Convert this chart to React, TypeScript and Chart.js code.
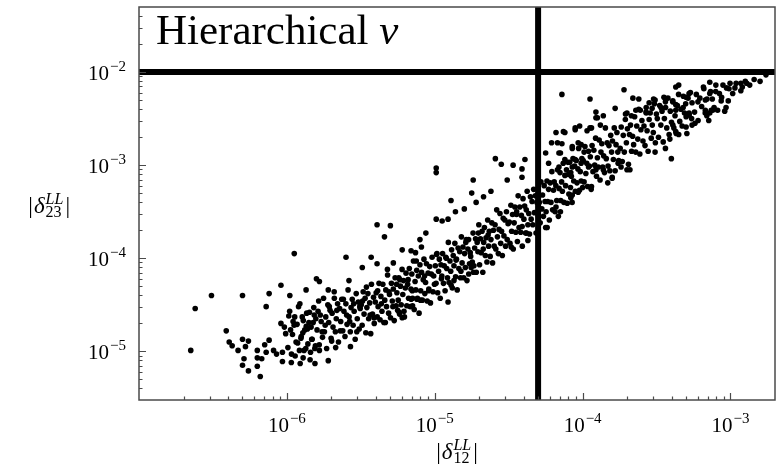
import React, { useEffect, useRef } from 'react';
import { Chart, registerables } from 'chart.js';

Chart.register(...registerables);

// Axis ranges and the two cut lines
const X_MIN = 1e-7;
const X_MAX = 2e-3;
const Y_MIN = 3e-6;
const Y_MAX = 5e-2;
const CUT_X = 5e-5;
const CUT_Y = 1e-2;

// Decade tick labels (exponents of 10)
const xTickExponents = [-6, -5, -4, -3];
const yTickExponents = [-5, -4, -3, -2];

const titleWord = 'Hierarchical ';
const titleSymbol = 'ν';
const xLabelSub = '12';
const yLabelSub = '23';

// Points, as [log10|δ12|, log10|δ23|]
const lowTail: number[][] = [
  [-6.65, -4.99], [-6.62, -4.54], [-6.51, -4.40], [-6.30, -4.40], [-6.41, -4.78], [-6.39, -4.90],
  [-6.37, -4.94], [-6.30, -4.87], [-6.26, -4.89], [-6.33, -4.99], [-6.28, -4.95], [-6.29, -5.08],
  [-6.30, -5.15], [-6.26, -5.21], [-6.20, -4.99], [-6.20, -5.07], [-6.17, -5.08], [-6.20, -5.16],
  [-6.18, -5.27], [-6.15, -4.93], [-6.12, -4.88], [-6.14, -4.52], [-6.12, -4.38], [-6.04, -4.29],
  [-5.98, -4.40], [-6.04, -4.70], [-6.14, -5.01], [-6.09, -4.99], [-6.07, -5.03], [-6.03, -5.01],
  [-6.03, -5.11], [-5.97, -5.12], [-5.89, -5.07], [-5.81, -5.13], [-5.72, -5.10], [-5.78, -4.99],
  [-5.67, -4.96], [-5.57, -4.95], [-5.91, -5.13],
];

const bandNear1e6: number[][] = [
  [-6.017, -4.74], [-5.993, -4.96], [-5.981, -4.57], [-5.962, -4.82], [-5.958, -4.68], [-5.944, -5.05],
  [-5.931, -4.71], [-5.927, -4.91], [-5.912, -4.49], [-5.905, -4.86], [-5.896, -4.63], [-5.884, -4.99],
  [-5.879, -4.77], [-5.866, -4.59], [-5.858, -4.92], [-5.851, -4.69], [-5.843, -5.09], [-5.836, -4.74],
  [-5.829, -4.87], [-5.818, -4.53], [-5.811, -4.97], [-5.804, -4.65], [-6.008, -4.81], [-5.987, -4.62],
  [-5.969, -5.03], [-5.951, -4.72], [-5.938, -4.90], [-5.921, -4.52], [-5.903, -4.84], [-5.889, -4.67],
  [-5.872, -4.97], [-5.861, -4.76], [-5.847, -4.58], [-5.832, -4.87], [-5.822, -4.69], [-5.807, -4.94],
  [-5.975, -4.77], [-5.947, -4.63], [-5.915, -4.99], [-5.892, -4.80], [-5.869, -4.73], [-5.840, -5.01],
  [-5.815, -4.61],
];

const band2to3e6: number[][] = [
  [-5.796, -4.77], [-5.789, -4.57], [-5.781, -4.93], [-5.774, -4.61], [-5.768, -4.68], [-5.759, -4.85],
  [-5.752, -4.43], [-5.746, -4.79], [-5.737, -4.63], [-5.731, -4.97], [-5.723, -4.50], [-5.717, -4.69],
  [-5.708, -4.56], [-5.701, -4.86], [-5.694, -4.59], [-5.688, -4.74], [-5.679, -4.43], [-5.672, -4.79],
  [-5.666, -4.65], [-5.657, -4.49], [-5.651, -4.90], [-5.643, -4.54], [-5.636, -4.68], [-5.629, -4.44],
  [-5.622, -4.78], [-5.614, -4.57], [-5.607, -4.84], [-5.601, -4.49], [-5.593, -4.71], [-5.586, -4.34],
  [-5.579, -4.63], [-5.571, -4.79], [-5.566, -4.53], [-5.558, -4.44], [-5.552, -4.72], [-5.545, -4.57],
  [-5.538, -4.87], [-5.531, -4.38], [-5.524, -4.65], [-5.517, -4.47], [-5.511, -4.76], [-5.504, -4.54],
  [-5.785, -4.46], [-5.762, -4.79], [-5.741, -4.72], [-5.713, -4.52], [-5.697, -4.89], [-5.662, -4.56],
  [-5.639, -4.78], [-5.618, -4.44], [-5.596, -4.61], [-5.575, -4.68], [-5.548, -4.49], [-5.527, -4.79],
  [-5.507, -4.52],
];

const band3to6e6: number[][] = [
  [-5.497, -4.50], [-5.491, -4.72], [-5.484, -4.36], [-5.478, -4.60], [-5.471, -4.43], [-5.466, -4.80],
  [-5.459, -4.53], [-5.452, -4.38], [-5.447, -4.65], [-5.440, -4.48], [-5.433, -4.81], [-5.428, -4.28],
  [-5.421, -4.60], [-5.414, -4.42], [-5.409, -4.70], [-5.402, -4.47], [-5.396, -4.37], [-5.389, -4.63],
  [-5.383, -4.52], [-5.377, -4.27], [-5.370, -4.66], [-5.364, -4.41], [-5.357, -4.57], [-5.351, -4.28],
  [-5.344, -4.69], [-5.338, -4.45], [-5.331, -4.34], [-5.326, -4.52], [-5.319, -4.18], [-5.312, -4.59],
  [-5.306, -4.39], [-5.299, -4.64], [-5.293, -4.27], [-5.287, -4.46], [-5.280, -4.33], [-5.274, -4.67],
  [-5.268, -4.21], [-5.261, -4.51], [-5.256, -4.37], [-5.251, -4.56], [-5.488, -4.46], [-5.462, -4.31],
  [-5.437, -4.61], [-5.411, -4.64], [-5.386, -4.35], [-5.361, -4.49], [-5.334, -4.69], [-5.309, -4.36],
  [-5.283, -4.52], [-5.258, -4.28],
];

const band6e6to1e5: number[][] = [
  [-5.247, -4.45], [-5.243, -4.21], [-5.238, -4.60], [-5.232, -4.30], [-5.227, -4.50], [-5.221, -4.12],
  [-5.216, -4.39], [-5.211, -4.24], [-5.205, -4.63], [-5.199, -4.32], [-5.194, -4.16], [-5.189, -4.51],
  [-5.183, -4.28], [-5.177, -4.43], [-5.172, -4.11], [-5.166, -4.52], [-5.161, -4.33], [-5.155, -4.17],
  [-5.150, -4.43], [-5.144, -4.03], [-5.139, -4.55], [-5.133, -4.25], [-5.128, -4.34], [-5.122, -4.13],
  [-5.117, -4.43], [-5.111, -4.19], [-5.106, -4.59], [-5.100, -4.07], [-5.095, -4.35], [-5.089, -4.15],
  [-5.084, -4.45], [-5.078, -4.23], [-5.073, -4.01], [-5.067, -4.38], [-5.062, -4.26], [-5.056, -4.06],
  [-5.051, -4.46], [-5.045, -4.16], [-5.040, -4.33], [-5.034, -4.09], [-5.029, -4.48], [-5.023, -4.17],
  [-5.018, -3.99], [-5.012, -4.36], [-5.007, -4.19], [-5.002, -4.28], [-5.236, -4.23], [-5.208, -4.57],
  [-5.180, -4.23], [-5.152, -4.35], [-5.125, -4.03], [-5.097, -4.45], [-5.069, -4.19], [-5.041, -4.35],
];

const band1to2e5: number[][] = [
  [-4.996, -4.08], [-4.991, -4.27], [-4.985, -3.95], [-4.980, -4.37], [-4.974, -4.14], [-4.969, -4.01],
  [-4.963, -4.43], [-4.958, -4.07], [-4.952, -4.19], [-4.947, -3.95], [-4.941, -4.27], [-4.936, -4.08],
  [-4.930, -4.35], [-4.925, -3.99], [-4.919, -4.11], [-4.914, -4.21], [-4.908, -3.83], [-4.903, -4.26],
  [-4.897, -4.03], [-4.892, -4.14], [-4.886, -3.91], [-4.881, -4.32], [-4.875, -3.97], [-4.870, -4.08],
  [-4.864, -3.84], [-4.859, -4.20], [-4.853, -4.01], [-4.848, -4.34], [-4.842, -3.89], [-4.837, -4.11],
  [-4.831, -3.93], [-4.826, -4.21], [-4.820, -3.77], [-4.815, -4.05], [-4.809, -3.88], [-4.804, -4.21],
  [-4.798, -3.95], [-4.793, -4.10], [-4.787, -3.80], [-4.782, -4.24], [-4.776, -3.90], [-4.771, -3.80],
  [-4.765, -4.06], [-4.760, -3.94], [-4.754, -4.10], [-4.988, -3.96], [-4.955, -4.22], [-4.922, -4.00],
  [-4.889, -4.29], [-4.856, -4.02], [-4.823, -4.14], [-4.790, -3.83], [-4.757, -3.98],
];

const band2to3e5: number[][] = [
  [-4.746, -4.04], [-4.741, -3.73], [-4.735, -4.08], [-4.730, -3.89], [-4.724, -3.79], [-4.719, -4.15],
  [-4.713, -3.83], [-4.708, -3.93], [-4.702, -3.64], [-4.697, -4.07], [-4.691, -3.79], [-4.686, -3.94],
  [-4.680, -3.71], [-4.675, -4.15], [-4.669, -3.83], [-4.664, -3.67], [-4.658, -3.97], [-4.653, -3.78],
  [-4.647, -4.04], [-4.642, -3.59], [-4.636, -3.87], [-4.631, -3.71], [-4.625, -3.98], [-4.620, -3.80],
  [-4.614, -3.62], [-4.609, -4.05], [-4.603, -3.70], [-4.598, -3.87], [-4.592, -3.64], [-4.587, -3.90],
  [-4.581, -3.48], [-4.576, -3.77], [-4.570, -3.95], [-4.565, -3.69], [-4.559, -3.52], [-4.554, -3.84],
  [-4.548, -3.71], [-4.543, -3.97], [-4.537, -3.57], [-4.532, -3.76], [-4.526, -3.59], [-4.521, -3.87],
  [-4.515, -3.50], [-4.510, -3.80], [-4.504, -3.63], [-4.738, -4.15], [-4.705, -3.73], [-4.672, -3.90],
  [-4.639, -3.75],
];

const band3to6e5: number[][] = [
  [-4.496, -3.61], [-4.491, -3.84], [-4.485, -3.43], [-4.480, -3.71], [-4.474, -3.53], [-4.469, -3.90],
  [-4.463, -3.62], [-4.458, -3.45], [-4.452, -3.72], [-4.447, -3.53], [-4.441, -3.82], [-4.436, -3.33],
  [-4.430, -3.67], [-4.425, -3.45], [-4.419, -3.72], [-4.414, -3.54], [-4.408, -3.87], [-4.403, -3.36],
  [-4.397, -3.58], [-4.392, -3.44], [-4.386, -3.73], [-4.381, -3.48], [-4.375, -3.28], [-4.370, -3.64],
  [-4.364, -3.52], [-4.359, -3.74], [-4.353, -3.34], [-4.348, -3.58], [-4.342, -3.39], [-4.337, -3.64],
  [-4.331, -3.26], [-4.326, -3.51], [-4.320, -3.33], [-4.315, -3.73], [-4.309, -3.40], [-4.304, -3.26],
  [-4.298, -3.55], [-4.293, -3.40], [-4.287, -3.62], [-4.282, -3.18], [-4.276, -3.47], [-4.271, -3.32],
  [-4.265, -3.55], [-4.260, -3.22], [-4.254, -3.39], [-4.483, -3.88], [-4.446, -3.50], [-4.409, -3.66],
];

const band6e5to1e4: number[][] = [
  [-4.247, -3.50], [-4.241, -3.17], [-4.236, -3.39], [-4.230, -3.26], [-4.225, -3.59], [-4.219, -3.19],
  [-4.214, -3.40], [-4.208, -3.07], [-4.203, -3.48], [-4.197, -3.27], [-4.192, -3.18], [-4.186, -3.50],
  [-4.181, -3.22], [-4.175, -3.38], [-4.170, -3.05], [-4.164, -3.55], [-4.159, -3.25], [-4.153, -3.08],
  [-4.148, -3.38], [-4.142, -3.18], [-4.137, -3.28], [-4.131, -2.98], [-4.126, -3.40], [-4.120, -3.11],
  [-4.115, -3.22], [-4.109, -3.05], [-4.104, -3.41], [-4.098, -3.10], [-4.093, -3.31], [-4.087, -2.97],
  [-4.082, -3.24], [-4.076, -3.12], [-4.071, -3.40], [-4.065, -2.93], [-4.060, -3.17], [-4.054, -3.01],
  [-4.049, -3.28], [-4.043, -2.95], [-4.038, -3.19], [-4.032, -3.04], [-4.027, -2.82], [-4.021, -3.27],
  [-4.016, -3.07], [-4.010, -3.17], [-4.005, -2.93],
];

const band1to2e4: number[][] = [
  [-3.996, -2.95], [-3.990, -3.18], [-3.984, -2.80], [-3.978, -3.09], [-3.972, -2.98], [-3.966, -3.23],
  [-3.960, -2.85], [-3.954, -3.01], [-3.948, -2.91], [-3.942, -3.26], [-3.936, -2.79], [-3.930, -3.07],
  [-3.924, -2.84], [-3.918, -3.00], [-3.912, -2.71], [-3.906, -3.12], [-3.900, -2.92], [-3.894, -3.02],
  [-3.888, -2.73], [-3.882, -3.16], [-3.876, -2.86], [-3.870, -2.77], [-3.864, -3.02], [-3.858, -2.90],
  [-3.852, -3.08], [-3.846, -2.60], [-3.840, -2.93], [-3.834, -2.76], [-3.828, -3.01], [-3.822, -2.79],
  [-3.816, -3.06], [-3.810, -2.68], [-3.804, -2.86], [-3.798, -2.74], [-3.792, -2.94], [-3.786, -2.60],
  [-3.780, -3.06], [-3.774, -2.78], [-3.768, -2.65], [-3.762, -2.86], [-3.756, -2.95],
];

const band2to3e4: number[][] = [
  [-3.746, -2.82], [-3.739, -2.59], [-3.732, -2.96], [-3.725, -2.68], [-3.718, -2.86], [-3.711, -2.51],
  [-3.704, -2.76], [-3.697, -2.61], [-3.690, -2.99], [-3.683, -2.67], [-3.676, -2.57], [-3.669, -2.85],
  [-3.662, -2.69], [-3.655, -2.78], [-3.648, -2.48], [-3.641, -2.86], [-3.634, -2.58], [-3.627, -2.72],
  [-3.620, -2.40], [-3.613, -2.88], [-3.606, -2.62], [-3.599, -2.52], [-3.592, -2.74], [-3.585, -2.58],
  [-3.578, -2.79], [-3.571, -2.43], [-3.564, -2.63], [-3.557, -2.85], [-3.550, -2.51], [-3.543, -2.44],
  [-3.536, -2.71], [-3.529, -2.57], [-3.522, -2.65], [-3.515, -2.34], [-3.508, -2.76], [-3.501, -2.45],
];

const band3to6e4: number[][] = [
  [-3.495, -2.50], [-3.487, -2.70], [-3.479, -2.36], [-3.471, -2.57], [-3.463, -2.42], [-3.455, -2.75],
  [-3.447, -2.50], [-3.439, -2.38], [-3.431, -2.60], [-3.423, -2.28], [-3.415, -2.67], [-3.407, -2.42],
  [-3.399, -2.54], [-3.391, -2.32], [-3.383, -2.60], [-3.375, -2.47], [-3.367, -2.66], [-3.359, -2.36],
  [-3.351, -2.24], [-3.343, -2.53], [-3.335, -2.40], [-3.327, -2.58], [-3.319, -2.26], [-3.311, -2.44],
  [-3.303, -2.34], [-3.295, -2.66], [-3.287, -2.28], [-3.279, -2.46], [-3.271, -2.22], [-3.263, -2.50],
];

const band6e4to2e3: number[][] = [
  [-3.243, -2.43], [-3.231, -2.24], [-3.219, -2.52], [-3.207, -2.28], [-3.195, -2.37], [-3.183, -2.16],
  [-3.171, -2.44], [-3.159, -2.29], [-3.147, -2.52], [-3.135, -2.21], [-3.123, -2.29], [-3.111, -2.38],
  [-3.099, -2.14], [-3.087, -2.41], [-3.075, -2.23], [-3.063, -2.31], [-3.051, -2.14], [-3.039, -2.42],
  [-3.027, -2.17], [-3.015, -2.31], [-3.003, -2.12], [-2.985, -2.23], [-2.962, -2.12], [-2.92, -2.16],
  [-2.90, -2.10], [-2.87, -2.14], [-2.84, -2.08], [-2.80, -2.10],
];

const sparsePoints: number[][] = [
  [-5.95, -3.95], [-5.87, -4.34], [-5.80, -4.22], [-5.78, -4.25], [-5.72, -4.34], [-5.68, -4.36],
  [-5.58, -4.24], [-5.60, -3.99], [-5.49, -4.10], [-5.43, -3.99], [-5.39, -4.06], [-5.39, -3.64],
  [-5.30, -3.65], [-5.34, -3.77], [-5.28, -4.05], [-5.32, -4.12], [-5.22, -3.91], [-5.16, -3.92],
  [-5.13, -3.94], [-5.10, -3.80], [-5.06, -3.73], [-5.09, -3.88], [-4.99, -3.03], [-4.99, -3.08],
  [-4.59, -2.93], [-4.55, -2.99], [-4.47, -3.00], [-4.39, -2.94], [-4.74, -3.16], [-4.51, -3.16],
  [-4.75, -3.30], [-4.72, -3.40], [-4.89, -3.38], [-4.62, -3.28], [-4.67, -3.34], [-4.80, -3.47],
  [-4.86, -3.50], [-4.99, -3.58], [-4.95, -3.60], [-4.91, -3.58], [-4.37, -3.81], [-4.24, -3.67],
  [-4.41, -3.04], [-4.41, -3.13], [-4.21, -2.76], [-4.17, -2.76], [-4.14, -2.77], [-4.18, -2.65],
  [-4.12, -2.65], [-4.07, -2.80], [-4.25, -2.87], [-4.15, -2.87], [-4.23, -2.98], [-4.16, -3.02],
  [-4.10, -2.97], [-4.07, -3.02], [-4.08, -3.08], [-4.15, -3.50], [-4.05, -2.60], [-4.02, -2.58],
  [-3.97, -2.63], [-3.94, -2.60], [-3.91, -2.43], [-3.91, -2.49], [-4.01, -2.78], [-3.99, -2.86],
  [-3.78, -2.39], [-3.86, -2.47], [-3.71, -2.45], [-3.67, -2.47], [-3.64, -2.41], [-3.57, -2.38],
  [-3.55, -2.33], [-3.51, -2.30], [-3.40, -2.93], [-3.03, -2.38], [-3.13, -2.41], [-3.16, -2.47],
  [-3.26, -2.57], [-3.35, -2.67], [-3.41, -2.72], [-3.44, -2.82], [-3.51, -2.86], [-3.68, -3.05],
  [-3.70, -3.05], [-3.74, -3.02], [-3.76, -2.98], [-3.83, -3.19], [-3.80, -3.14], [-3.94, -3.23],
  [-4.00, -3.24], [-4.03, -3.29], [-4.08, -3.35], [-4.07, -3.32], [-4.18, -3.45], [-4.25, -3.67],
  [-4.38, -3.73], [-4.77, -4.17], [-4.87, -4.24], [-2.76, -2.03], [-2.89, -2.12], [-2.93, -2.12],
  [-2.93, -2.20], [-2.97, -2.17], [-3.01, -2.18], [-3.14, -2.11], [-3.18, -2.18], [-3.14, -2.23],
  [-3.10, -2.21], [-3.06, -2.27], [-3.35, -2.14], [-3.37, -2.16], [-3.28, -2.23], [-3.30, -2.27],
  [-3.72, -2.19], [-4.14, -2.24], [-3.95, -2.29], [-3.66, -2.28], [-3.62, -2.29], [-3.52, -2.29],
  [-3.45, -2.27], [-3.44, -2.32], [-3.39, -2.31], [-3.37, -2.35], [-3.90, -2.49], [-3.88, -2.57],
  [-3.70, -2.44], [-3.61, -2.41], [-3.57, -2.44], [-3.47, -2.38], [-3.53, -2.39], [-3.37, -2.41],
  [-3.32, -2.38], [-3.26, -2.33], [-3.22, -2.32], [-3.17, -2.30], [-3.28, -2.44], [-3.30, -2.48],
  [-3.24, -2.55], [-3.30, -2.59], [-3.17, -2.41], [-3.14, -2.44], [-3.12, -2.41], [-3.39, -2.57],
  [-3.37, -2.64], [-4.13, -2.64], [-4.05, -2.62], [-3.95, -2.60], [-4.03, -2.76], [-4.07, -2.82],
  [-4.16, -2.87], [-4.12, -2.94], [-4.05, -2.94], [-4.01, -2.98], [-3.96, -3.02], [-3.91, -3.05],
  [-3.86, -3.05], [-3.80, -3.13], [-5.24, -4.58], [-5.22, -4.64], [-5.15, -4.51], [-5.12, -4.44],
  [-5.16, -4.44], [-4.91, -4.47],
];

const SERIF = '"Liberation Serif", "DejaVu Serif", "Times New Roman", serif';
const FRAME = '#4a4a4a';

function drawPower(ctx: CanvasRenderingContext2D, exp: number, x: number, baseline: number, align: 'center' | 'right') {
  const baseFont = `21px ${SERIF}`;
  const expFont = `15px ${SERIF}`;
  const expText = '\u2212' + String(Math.abs(exp));
  ctx.font = baseFont;
  const wb = ctx.measureText('10').width;
  ctx.font = expFont;
  const we = ctx.measureText(expText).width;
  const total = wb + 1 + we;
  const start = align === 'center' ? x - total / 2 : x - total;
  ctx.textAlign = 'left';
  ctx.textBaseline = 'alphabetic';
  ctx.font = baseFont;
  ctx.fillText('10', start, baseline);
  ctx.font = expFont;
  ctx.fillText(expText, start + wb + 1, baseline - 9);
}

function drawDelta(ctx: CanvasRenderingContext2D, sub: string, x: number, baseline: number, align: 'center' | 'right') {
  const main = `23px ${SERIF}`;
  const ital = `italic 23px ${SERIF}`;
  const scr = `16px ${SERIF}`;
  const scrIt = `italic 16px ${SERIF}`;
  ctx.font = main;
  const wBar = ctx.measureText('|').width;
  ctx.font = ital;
  const wD = ctx.measureText('δ').width;
  ctx.font = scrIt;
  const wSup = ctx.measureText('LL').width;
  ctx.font = scr;
  const wSub = ctx.measureText(sub).width;
  const wScript = Math.max(wSup, wSub);
  const total = wBar + 1 + wD + 1 + wScript + 2 + wBar;
  let cx = align === 'center' ? x - total / 2 : x - total;
  ctx.textAlign = 'left';
  ctx.textBaseline = 'alphabetic';
  ctx.font = main;
  ctx.fillText('|', cx, baseline);
  cx += wBar + 1;
  ctx.font = ital;
  ctx.fillText('δ', cx, baseline);
  cx += wD + 1;
  ctx.font = scrIt;
  ctx.fillText('LL', cx, baseline - 9);
  ctx.font = scr;
  ctx.fillText(sub, cx, baseline + 4);
  cx += wScript + 2;
  ctx.font = main;
  ctx.fillText('|', cx, baseline);
}

const decorPlugin = {
  id: 'decor',
  afterDraw(chart: any) {
    const { ctx, chartArea: a, scales } = chart;
    const xs = scales.x;
    const ys = scales.y;
    ctx.save();
    ctx.strokeStyle = FRAME;
    ctx.lineWidth = 1.5;
    ctx.strokeRect(a.left, a.top, a.right - a.left, a.bottom - a.top);
    ctx.lineWidth = 1.2;
    ctx.beginPath();
    for (let e = -8; e <= -1; e++) {
      for (let m = 1; m <= 9; m++) {
        const v = m * Math.pow(10, e);
        const len = m === 1 ? 7 : 3.5;
        if (v > X_MIN * 1.001 && v < X_MAX * 0.999) {
          const px = Math.round(xs.getPixelForValue(v)) + 0.5;
          ctx.moveTo(px, a.bottom);
          ctx.lineTo(px, a.bottom - len);
        }
        if (v > Y_MIN * 1.001 && v < Y_MAX * 0.999) {
          const py = Math.round(ys.getPixelForValue(v)) + 0.5;
          ctx.moveTo(a.left, py);
          ctx.lineTo(a.left + len, py);
        }
      }
    }
    ctx.stroke();

    ctx.fillStyle = '#000';
    xTickExponents.forEach((e) => {
      const px = xs.getPixelForValue(Math.pow(10, e));
      drawPower(ctx, e, px, a.bottom + 32, 'center');
    });
    yTickExponents.forEach((e) => {
      const py = ys.getPixelForValue(Math.pow(10, e));
      drawPower(ctx, e, a.left - 13, py + 8, 'right');
    });

    drawDelta(ctx, xLabelSub, (a.left + a.right) / 2, a.bottom + 59, 'center');
    drawDelta(ctx, yLabelSub, 70, (a.top + a.bottom) / 2 + 9, 'right');

    ctx.font = `43px ${SERIF}`;
    ctx.textAlign = 'left';
    ctx.textBaseline = 'alphabetic';
    ctx.fillText(titleWord, a.left + 17, a.top + 37);
    const wt = ctx.measureText(titleWord).width;
    ctx.font = `italic 43px ${SERIF}`;
    ctx.fillText(titleSymbol, a.left + 17 + wt, a.top + 37);
    ctx.restore();
  },
};

export default function App() {
  const canvasRef = useRef<HTMLCanvasElement | null>(null);

  useEffect(() => {
    document.body.style.margin = '0';
    const canvas = canvasRef.current;
    if (!canvas) return;
    const all = [
      ...lowTail, ...bandNear1e6, ...band2to3e6, ...band3to6e6, ...band6e6to1e5,
      ...band1to2e5, ...band2to3e5, ...band3to6e5, ...band6e5to1e4, ...band1to2e4,
      ...band2to3e4, ...band3to6e4, ...band6e4to2e3, ...sparsePoints,
    ];
    const points = all.map(([lx, ly]) => ({ x: Math.pow(10, lx), y: Math.pow(10, ly) }));
    const chart = new Chart(canvas, {
      type: 'scatter',
      data: {
        datasets: [
          {
            type: 'line',
            data: [{ x: X_MIN, y: CUT_Y }, { x: X_MAX, y: CUT_Y }],
            borderColor: '#000',
            borderWidth: 6,
            pointRadius: 0,
            fill: false,
          } as any,
          {
            type: 'line',
            data: [{ x: CUT_X, y: Y_MIN }, { x: CUT_X, y: Y_MAX }],
            borderColor: '#000',
            borderWidth: 6,
            pointRadius: 0,
            fill: false,
          } as any,
          {
            data: points,
            backgroundColor: '#000',
            borderWidth: 0,
            pointRadius: 2.8,
          },
        ],
      },
      options: {
        animation: false,
        responsive: false,
        layout: { padding: { top: 7, right: 2, left: 0, bottom: 0 } },
        plugins: { legend: { display: false }, tooltip: { enabled: false } },
        scales: {
          x: {
            type: 'logarithmic',
            min: X_MIN,
            max: X_MAX,
            grid: { display: false },
            border: { display: false },
            ticks: { display: false },
            afterFit: (s: any) => { s.height = 72; },
          },
          y: {
            type: 'logarithmic',
            min: Y_MIN,
            max: Y_MAX,
            grid: { display: false },
            border: { display: false },
            ticks: { display: false },
            afterFit: (s: any) => { s.width = 139; },
          },
        },
      },
      plugins: [decorPlugin],
    });
    return () => chart.destroy();
  }, []);

  return (
    <div style={{ width: 779, height: 472, background: '#fff' }}>
      <canvas ref={canvasRef} width={779} height={472} />
    </div>
  );
}
